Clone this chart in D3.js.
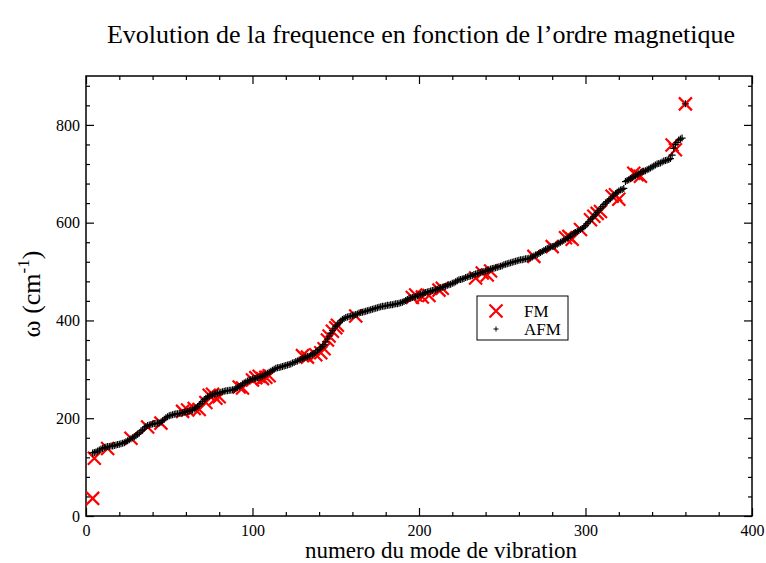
<!DOCTYPE html>
<html>
<head>
<meta charset="utf-8">
<script src="https://cdn.jsdelivr.net/npm/d3@7/dist/d3.min.js"></script>
<style>
  html, body { margin: 0; padding: 0; background: #fff; }
  svg { display: block; }
  text { font-family: "Liberation Serif", "Times New Roman", serif; fill: #000; }
</style>
</head>
<body>
<script>
// Frequencies (cm^-1) of the AFM configuration, modes 4..358, then mode 360
const afmStart = 4;
const afmFreq = [
  129,130,131,133,135,137,138,140,141,142,
  142,143,143,144,145,146,147,148,149,150,
  152,154,156,158,160,162,164,167,170,174,
  176,180,183,185,186,187,188,189,189,190,
  190,192,195,198,201,203,205,206,207,208,
  209,209,210,210,211,212,213,214,215,216,
  217,219,221,224,227,230,234,238,241,244,
  245,247,248,249,250,251,252,253,254,255,
  256,256,257,257,258,259,261,263,265,267,
  270,272,274,276,277,279,280,281,282,283,
  284,285,286,288,290,292,294,296,298,300,
  302,303,304,305,306,307,308,309,310,311,
  313,314,316,317,319,320,322,323,325,326,
  327,329,331,333,335,338,341,344,347,350,
  356,362,368,374,379,384,388,391,395,399,
  402,404,406,407,408,409,410,411,412,413,
  415,416,417,418,419,420,421,422,423,424,
  425,426,427,428,429,429,430,431,431,432,
  432,433,434,434,435,436,437,439,441,443,
  445,446,447,448,449,450,452,453,454,456,
  457,458,459,460,461,462,463,464,466,467,
  468,469,470,472,473,474,476,477,479,481,
  483,484,485,486,488,489,490,491,492,494,
  495,496,497,498,499,500,501,502,503,505,
  506,507,508,509,510,511,512,514,515,516,
  517,518,519,520,521,522,523,524,524,525,
  526,526,527,528,530,532,534,535,537,539,
  541,543,545,547,548,550,551,552,554,556,
  558,560,562,564,566,568,570,572,575,578,
  580,582,584,586,588,591,594,598,602,606,
  609,613,617,621,625,629,633,637,640,643,
  646,649,653,656,659,662,665,667,668,670,
  684,686,688,690,692,694,696,698,700,702,
  704,705,706,708,710,712,714,716,718,720,
  721,722,724,726,727,728,729,731,738,752,
  760,764,769,771,773
];
const afmLastMode = [360];
const afmLastFreq = [843];

// Frequencies (cm^-1) of the FM configuration
const fmMode = [4,5,13,27,37,45,58,61,65,68,72,74,76,78,80,92,94,100,102,104,106,108,110,
  130,133,138,141,143,145,146,148,150,151,162,196,198,202,206,212,214,234,238,241,243,
  269,280,288,290,292,297,303,305,307,309,316,318,320,329,331,333,352,354,360];
const fmFreq = [36,118,138,159,182,190,214,217,220,218,232,247,249,241,244,264,262,278,283,286,281,284,287,
  328,325,330,334,342,360,368,378,385,390,409,447,452,448,451,462,466,487,497,493,501,
  531,551,569,572,566,586,606,613,619,623,654,657,648,701,698,695,759,749,843];

const xTicks = [0, 100, 200, 300, 400];
const yTicks = [0, 200, 400, 600, 800];
const titleText = "Evolution de la frequence en fonction de l\u2019ordre magnetique";
const xLabel = "numero du mode de vibration";
const seriesNames = ["FM", "AFM"];

const SERIF = "'Liberation Serif', 'Times New Roman', serif";
const W = 766, H = 563;
const svg = d3.select("body").append("svg").attr("width", W).attr("height", H);

const x = d3.scaleLinear().domain([0, 400]).range([86, 752]);
const y = d3.scaleLinear().domain([0, 900]).range([516, 76]);

const afm = afmFreq.map((f, i) => ({ m: afmStart + i, f }))
  .concat(afmLastMode.map((m, i) => ({ m, f: afmLastFreq[i] })));
const fm = fmMode.map((m, i) => ({ m, f: fmFreq[i] }));

// Title
svg.append("text").attr("x", 421).attr("y", 43).attr("text-anchor", "middle")
  .attr("font-family", SERIF).style("font-size", "26px").text(titleText);

// Axes: ticks point inwards on all four sides
const xMinor = d3.range(0, 401, 20).filter(v => v % 100 !== 0);
const yMinor = d3.range(0, 901, 40).filter(v => v % 200 !== 0);

function styleAxis(g) {
  g.attr("font-family", SERIF).attr("font-size", 16);
  g.select(".domain").remove();
  g.selectAll("line").attr("stroke", "#000").attr("stroke-width", 1.2);
  g.selectAll("text").attr("font-family", SERIF).style("font-family", SERIF).style("font-size", "16px");
}

svg.append("g").attr("transform", `translate(0,${y(0)})`)
  .call(d3.axisBottom(x).tickValues(xTicks).tickSizeInner(-8).tickSizeOuter(0).tickPadding(9).tickFormat(d3.format("d")))
  .call(styleAxis);
svg.append("g").attr("transform", `translate(0,${y(0)})`)
  .call(d3.axisBottom(x).tickValues(xMinor).tickSizeInner(-4).tickSizeOuter(0).tickFormat(""))
  .call(styleAxis);
svg.append("g").attr("transform", `translate(0,${y(900)})`)
  .call(d3.axisTop(x).tickValues(xTicks).tickSizeInner(-8).tickSizeOuter(0).tickFormat(""))
  .call(styleAxis);
svg.append("g").attr("transform", `translate(0,${y(900)})`)
  .call(d3.axisTop(x).tickValues(xMinor).tickSizeInner(-4).tickSizeOuter(0).tickFormat(""))
  .call(styleAxis);

svg.append("g").attr("transform", `translate(${x(0)},0)`)
  .call(d3.axisLeft(y).tickValues(yTicks).tickSizeInner(-8).tickSizeOuter(0).tickPadding(6).tickFormat(d3.format("d")))
  .call(styleAxis);
svg.append("g").attr("transform", `translate(${x(0)},0)`)
  .call(d3.axisLeft(y).tickValues(yMinor).tickSizeInner(-4).tickSizeOuter(0).tickFormat(""))
  .call(styleAxis);
svg.append("g").attr("transform", `translate(${x(400)},0)`)
  .call(d3.axisRight(y).tickValues(yTicks).tickSizeInner(-8).tickSizeOuter(0).tickFormat(""))
  .call(styleAxis);
svg.append("g").attr("transform", `translate(${x(400)},0)`)
  .call(d3.axisRight(y).tickValues(yMinor).tickSizeInner(-4).tickSizeOuter(0).tickFormat(""))
  .call(styleAxis);

// Frame
svg.append("rect").attr("x", x(0)).attr("y", y(900))
  .attr("width", x(400) - x(0)).attr("height", y(0) - y(900))
  .attr("fill", "none").attr("stroke", "#000").attr("stroke-width", 1.5);

// Marker paths
const crossPath = s => `M${-s},${-s}L${s},${s}M${-s},${s}L${s},${-s}`;
const plusPath = s => `M${-s},0L${s},0M0,${-s}L0,${s}`;

// FM: red crosses (drawn first)
svg.append("g").selectAll("path").data(fm).join("path")
  .attr("transform", d => `translate(${x(d.m)},${y(d.f)})`)
  .attr("d", crossPath(6.5))
  .attr("fill", "none").attr("stroke", "#ff0000").attr("stroke-width", 2.2);

// AFM: small black plus signs
svg.append("g").selectAll("path").data(afm).join("path")
  .attr("transform", d => `translate(${x(d.m)},${y(d.f)})`)
  .attr("d", plusPath(3.5))
  .attr("fill", "none").attr("stroke", "#000").attr("stroke-width", 1.2);

// Legend
const lg = svg.append("g");
lg.append("rect").attr("x", 477).attr("y", 296).attr("width", 91).attr("height", 44)
  .attr("fill", "#fff").attr("stroke", "#000").attr("stroke-width", 1);
lg.append("path").attr("transform", "translate(496,311)").attr("d", crossPath(6.5))
  .attr("fill", "none").attr("stroke", "#ff0000").attr("stroke-width", 2.2);
lg.append("path").attr("transform", "translate(496,329)").attr("d", plusPath(2.5))
  .attr("fill", "none").attr("stroke", "#000").attr("stroke-width", 1);
lg.append("text").attr("x", 524).attr("y", 317).attr("font-family", SERIF).style("font-size", "17px").text(seriesNames[0]);
lg.append("text").attr("x", 524).attr("y", 335).attr("font-family", SERIF).style("font-size", "17px").text(seriesNames[1]);

// Axis titles
svg.append("text").attr("x", 441).attr("y", 558).attr("text-anchor", "middle")
  .attr("font-family", SERIF).style("font-size", "23px").text(xLabel);

const yl = svg.append("text").attr("transform", "translate(40,294) rotate(-90)")
  .attr("text-anchor", "middle").attr("font-family", SERIF).style("font-size", "26px");
yl.append("tspan").text("\u03c9  (cm");
yl.append("tspan").attr("dy", -11).style("font-size", "17px").text("-1");
yl.append("tspan").attr("dy", 11).text(")");
</script>
</body>
</html>
